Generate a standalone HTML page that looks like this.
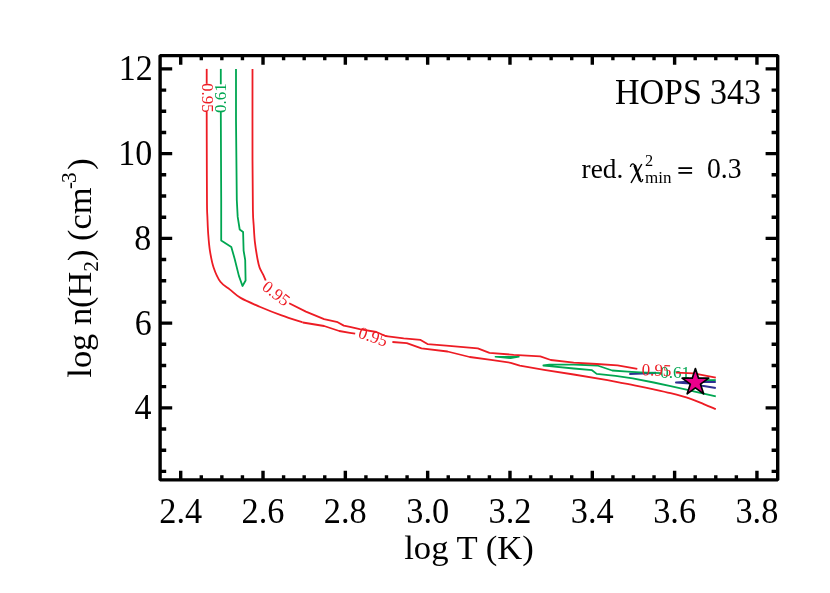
<!DOCTYPE html>
<html><head><meta charset="utf-8"><title>HOPS 343</title>
<style>html,body{margin:0;padding:0;background:#fff;}svg{display:block;will-change:transform;}text{font-family:"Liberation Serif",serif;}</style>
</head><body>
<svg width="830" height="593" viewBox="0 0 830 593">
<rect x="0" y="0" width="830" height="593" fill="#fff"/>
<path d="M629.3,373.9 L656.0,372.9" fill="none" stroke="#2e3192" stroke-width="2.20" stroke-linejoin="round" stroke-linecap="butt"/>
<path d="M715.8,382.0 L687.8,381.8 L676.0,382.5 L690.0,383.4 L702.2,385.8 L715.8,388.1" fill="none" stroke="#2e3192" stroke-width="2.00" stroke-linejoin="round" stroke-linecap="butt"/>
<path d="M220.8,68.9 L220.8,84.3" fill="none" stroke="#00a651" stroke-width="1.80" stroke-linejoin="round" stroke-linecap="butt"/>
<path d="M220.8,111.6 L221.2,200.0 L221.2,240.5 L231.3,246.9 L234.7,259.0 L238.9,275.9 L242.5,286.0 L245.6,280.5 L245.2,260.0 L243.6,250.6 L243.1,232.0 L239.7,229.5 L237.7,216.9 L236.8,200.0 L236.0,120.0 L236.0,68.9" fill="none" stroke="#00a651" stroke-width="1.80" stroke-linejoin="round" stroke-linecap="butt"/>
<path d="M495.3,356.8 L519.0,356.8 L510.5,358.3 Z" fill="none" stroke="#00a651" stroke-width="1.40" stroke-linejoin="round" stroke-linecap="butt"/>
<path d="M661.0,373.2 L640.2,372.3 L627.7,371.6 L612.2,370.5 L597.4,365.5 L573.7,364.6 L549.4,364.6 L543.4,365.5 L549.4,366.2 L573.7,368.5 L592.0,370.2 L596.7,373.9 L615.6,375.9 L632.7,378.4 L653.7,382.5 L670.6,386.2 L687.5,389.9 L693.7,391.3 L715.8,396.3" fill="none" stroke="#00a651" stroke-width="1.80" stroke-linejoin="round" stroke-linecap="butt"/>
<path d="M705.0,380.1 L715.8,380.1" fill="none" stroke="#00a651" stroke-width="1.80" stroke-linejoin="round" stroke-linecap="butt"/>
<text x="220.2" y="103.7" font-size="17" fill="#00a651" text-anchor="middle" transform="rotate(-90 220.2 98.0)">0.61</text>
<text x="675.2" y="378.2" font-size="17" fill="#00a651" text-anchor="middle" transform="rotate(0 675.2 372.5)">0.61</text>
<path d="M206.7,68.9 L206.7,83.8" fill="none" stroke="#ed1c24" stroke-width="1.80" stroke-linejoin="round" stroke-linecap="butt"/>
<path d="M206.70,112.10 C206.72,120.08 206.75,144.52 206.80,160.00 C206.85,175.48 206.90,195.50 207.00,205.00 C207.10,214.50 207.20,212.22 207.40,217.00 C207.60,221.78 207.78,228.10 208.20,233.70 C208.62,239.30 209.00,244.97 209.90,250.60 C210.80,256.23 211.85,262.30 213.60,267.50 C215.35,272.70 217.67,278.12 220.40,281.80 C223.13,285.48 226.63,286.92 230.00,289.60 C233.37,292.28 235.55,295.00 240.60,297.90 C245.65,300.80 253.47,304.08 260.30,307.00 C267.13,309.92 274.52,312.82 281.60,315.40 C288.68,317.98 299.27,321.32 302.80,322.50" fill="none" stroke="#ed1c24" stroke-width="1.80" stroke-linejoin="round"/>
<path d="M302.8,322.5 L324.1,326.0 L339.3,331.0 L349.9,332.8 L355.2,333.7" fill="none" stroke="#ed1c24" stroke-width="1.80" stroke-linejoin="round" stroke-linecap="butt"/>
<path d="M392.4,342.0 L406.8,343.1 L421.5,348.4 L447.5,351.5 L469.7,357.0 L491.0,359.8 L510.7,362.8 L519.8,365.7 L544.1,369.9 L573.7,374.5 L607.5,380.2 L620.0,382.6" fill="none" stroke="#ed1c24" stroke-width="1.80" stroke-linejoin="round" stroke-linecap="butt"/>
<path d="M620.00,382.60 C622.82,383.13 631.28,384.68 636.90,385.80 C642.52,386.92 648.08,388.07 653.70,389.30 C659.32,390.53 664.55,391.63 670.60,393.20 C676.65,394.77 684.48,396.88 690.00,398.70 C695.52,400.52 699.40,402.35 703.70,404.10 C708.00,405.85 713.78,408.35 715.80,409.20" fill="none" stroke="#ed1c24" stroke-width="1.80" stroke-linejoin="round"/>
<path d="M252.50,68.90 C252.50,84.08 252.43,136.48 252.50,160.00 C252.57,183.52 252.70,199.12 252.90,210.00 C253.10,220.88 253.37,219.93 253.70,225.30 C254.03,230.67 254.27,236.58 254.90,242.20 C255.53,247.82 256.72,254.77 257.50,259.00 C258.28,263.23 258.62,264.90 259.60,267.60 C260.58,270.30 262.38,273.05 263.40,275.20 C264.42,277.35 265.32,279.62 265.70,280.50" fill="none" stroke="#ed1c24" stroke-width="1.80" stroke-linejoin="round"/>
<path d="M289.2,303.2 L305.9,311.6 L324.1,319.2 L337.7,322.2 L343.8,325.6 L349.9,326.9 L359.7,329.2 L376.4,332.0 L386.0,336.2 L403.7,338.4 L420.6,339.9 L427.5,344.1 L446.2,345.7 L477.8,348.3 L489.5,352.8 L513.7,354.8 L540.3,356.3 L550.8,360.0 L573.7,362.7 L596.7,364.0 L617.6,365.4 L637.3,368.9" fill="none" stroke="#ed1c24" stroke-width="1.80" stroke-linejoin="round" stroke-linecap="butt"/>
<path d="M676.0,372.7 L693.7,373.4 L715.8,377.6" fill="none" stroke="#ed1c24" stroke-width="1.80" stroke-linejoin="round" stroke-linecap="butt"/>
<text x="207.3" y="103.7" font-size="17" fill="#ed1c24" text-anchor="middle" transform="rotate(90 207.3 98.0)">0.95</text>
<text x="276.3" y="299.1" font-size="17" fill="#ed1c24" text-anchor="middle" transform="rotate(38 276.3 293.4)">0.95</text>
<text x="373.1" y="342.3" font-size="17" fill="#ed1c24" text-anchor="middle" transform="rotate(19 373.1 336.6)">0.95</text>
<text x="656.6" y="375.7" font-size="17" fill="#ed1c24" text-anchor="middle" transform="rotate(2 656.6 370.0)">0.95</text>
<polygon points="695.40,368.50 698.54,378.17 708.71,378.17 700.49,384.15 703.63,393.83 695.40,387.85 687.17,393.83 690.31,384.15 682.09,378.17 692.26,378.17" fill="#ec008c" stroke="#000" stroke-width="1.7" stroke-linejoin="round"/>
<g stroke="#000" stroke-width="3.40" fill="none" stroke-linecap="butt">
<rect x="160.1" y="55.6" width="617.6" height="424.3" stroke-linejoin="bevel"/>
<path d="M180.70,479.9 v-9.1 M180.70,55.6 v9.1"/>
<path d="M201.28,479.9 v-4.7 M201.28,55.6 v4.7"/>
<path d="M221.86,479.9 v-4.7 M221.86,55.6 v4.7"/>
<path d="M242.44,479.9 v-4.7 M242.44,55.6 v4.7"/>
<path d="M263.02,479.9 v-9.1 M263.02,55.6 v9.1"/>
<path d="M283.60,479.9 v-4.7 M283.60,55.6 v4.7"/>
<path d="M304.18,479.9 v-4.7 M304.18,55.6 v4.7"/>
<path d="M324.76,479.9 v-4.7 M324.76,55.6 v4.7"/>
<path d="M345.34,479.9 v-9.1 M345.34,55.6 v9.1"/>
<path d="M365.92,479.9 v-4.7 M365.92,55.6 v4.7"/>
<path d="M386.50,479.9 v-4.7 M386.50,55.6 v4.7"/>
<path d="M407.08,479.9 v-4.7 M407.08,55.6 v4.7"/>
<path d="M427.66,479.9 v-9.1 M427.66,55.6 v9.1"/>
<path d="M448.24,479.9 v-4.7 M448.24,55.6 v4.7"/>
<path d="M468.82,479.9 v-4.7 M468.82,55.6 v4.7"/>
<path d="M489.40,479.9 v-4.7 M489.40,55.6 v4.7"/>
<path d="M509.98,479.9 v-9.1 M509.98,55.6 v9.1"/>
<path d="M530.56,479.9 v-4.7 M530.56,55.6 v4.7"/>
<path d="M551.14,479.9 v-4.7 M551.14,55.6 v4.7"/>
<path d="M571.72,479.9 v-4.7 M571.72,55.6 v4.7"/>
<path d="M592.30,479.9 v-9.1 M592.30,55.6 v9.1"/>
<path d="M612.88,479.9 v-4.7 M612.88,55.6 v4.7"/>
<path d="M633.46,479.9 v-4.7 M633.46,55.6 v4.7"/>
<path d="M654.04,479.9 v-4.7 M654.04,55.6 v4.7"/>
<path d="M674.62,479.9 v-9.1 M674.62,55.6 v9.1"/>
<path d="M695.20,479.9 v-4.7 M695.20,55.6 v4.7"/>
<path d="M715.78,479.9 v-4.7 M715.78,55.6 v4.7"/>
<path d="M736.36,479.9 v-4.7 M736.36,55.6 v4.7"/>
<path d="M756.94,479.9 v-9.1 M756.94,55.6 v9.1"/>
<path d="M160.1,471.41 h6.1 M777.7,471.41 h-6.1"/>
<path d="M160.1,450.23 h6.1 M777.7,450.23 h-6.1"/>
<path d="M160.1,429.04 h6.1 M777.7,429.04 h-6.1"/>
<path d="M160.1,407.86 h12.1 M777.7,407.86 h-12.1"/>
<path d="M160.1,386.67 h6.1 M777.7,386.67 h-6.1"/>
<path d="M160.1,365.49 h6.1 M777.7,365.49 h-6.1"/>
<path d="M160.1,344.30 h6.1 M777.7,344.30 h-6.1"/>
<path d="M160.1,323.12 h12.1 M777.7,323.12 h-12.1"/>
<path d="M160.1,301.94 h6.1 M777.7,301.94 h-6.1"/>
<path d="M160.1,280.75 h6.1 M777.7,280.75 h-6.1"/>
<path d="M160.1,259.56 h6.1 M777.7,259.56 h-6.1"/>
<path d="M160.1,238.38 h12.1 M777.7,238.38 h-12.1"/>
<path d="M160.1,217.19 h6.1 M777.7,217.19 h-6.1"/>
<path d="M160.1,196.01 h6.1 M777.7,196.01 h-6.1"/>
<path d="M160.1,174.82 h6.1 M777.7,174.82 h-6.1"/>
<path d="M160.1,153.64 h12.1 M777.7,153.64 h-12.1"/>
<path d="M160.1,132.45 h6.1 M777.7,132.45 h-6.1"/>
<path d="M160.1,111.27 h6.1 M777.7,111.27 h-6.1"/>
<path d="M160.1,90.09 h6.1 M777.7,90.09 h-6.1"/>
<path d="M160.1,68.90 h12.1 M777.7,68.90 h-12.1"/>
</g>
<g fill="#000" font-size="34">
<text transform="translate(180.7 522.8) scale(1.01 1.055)" font-size="34" text-anchor="middle">2.4</text>
<text transform="translate(263.0 522.8) scale(1.01 1.055)" font-size="34" text-anchor="middle">2.6</text>
<text transform="translate(345.3 522.8) scale(1.01 1.055)" font-size="34" text-anchor="middle">2.8</text>
<text transform="translate(427.7 522.8) scale(1.01 1.055)" font-size="34" text-anchor="middle">3.0</text>
<text transform="translate(510.0 522.8) scale(1.01 1.055)" font-size="34" text-anchor="middle">3.2</text>
<text transform="translate(592.3 522.8) scale(1.01 1.055)" font-size="34" text-anchor="middle">3.4</text>
<text transform="translate(674.6 522.8) scale(1.01 1.055)" font-size="34" text-anchor="middle">3.6</text>
<text transform="translate(756.9 522.8) scale(1.01 1.055)" font-size="34" text-anchor="middle">3.8</text>
<text transform="translate(151.4 419.3) scale(1 1.03)" font-size="34" text-anchor="end">4</text>
<text transform="translate(151.8 334.5) scale(1 1.03)" font-size="34" text-anchor="end">6</text>
<text transform="translate(151.2 249.8) scale(1 1.03)" font-size="34" text-anchor="end">8</text>
<text transform="translate(152.3 165.0) scale(1 1.03)" font-size="34" text-anchor="end">10</text>
<text transform="translate(152.8 80.3) scale(1 1.03)" font-size="34" text-anchor="end">12</text>
<text transform="translate(469.0 558.9) scale(1.02 1)" font-size="34" text-anchor="middle">log T (K)</text>
<text transform="translate(91.4 268.0) rotate(-90) scale(1.012 1)" text-anchor="middle">log n(H<tspan font-size="21" dy="7">2</tspan><tspan dy="-7">) (cm</tspan><tspan font-size="21" dy="-15" dx="-1.5">-</tspan><tspan font-size="21" dx="-1">3</tspan><tspan dy="15" dx="2.5">)</tspan></text>
<text transform="translate(615.0 103.8) scale(1 1.04)" font-size="34" text-anchor="start">HOPS</text>
<text transform="translate(760.9 103.8) scale(1 1.045)" font-size="34" text-anchor="end">343</text>
</g>
<g fill="#000" font-size="27.3">
<text x="581.6" y="178.2">red.</text>
<path d="M630.3,166.8 C630.8,164.6 632.0,163.6 633.2,163.9 C634.3,164.2 634.9,165.2 635.5,166.8" fill="none" stroke="#000" stroke-width="1.3"/>
<path d="M634.6,165.2 L640.2,180.6" fill="none" stroke="#000" stroke-width="2.7"/>
<path d="M639.5,179.6 C640.1,181.3 640.9,181.9 641.6,181.6 C642.3,181.3 642.6,180.3 642.8,179.0" fill="none" stroke="#000" stroke-width="1.3"/>
<path d="M641.8,164.0 L631.0,183.0" fill="none" stroke="#000" stroke-width="1.5"/>
<text x="645.0" y="165.5" font-size="16.3">2</text>
<text x="645.0" y="183.3" font-size="17.0">min</text>
<rect x="678.4" y="167.2" width="13.7" height="1.8"/>
<rect x="678.4" y="172.0" width="13.7" height="1.8"/>
<text transform="translate(707.0 178.0) scale(1 1.04)" font-size="27.6" text-anchor="start">0.3</text>
</g>
</svg>
</body></html>
